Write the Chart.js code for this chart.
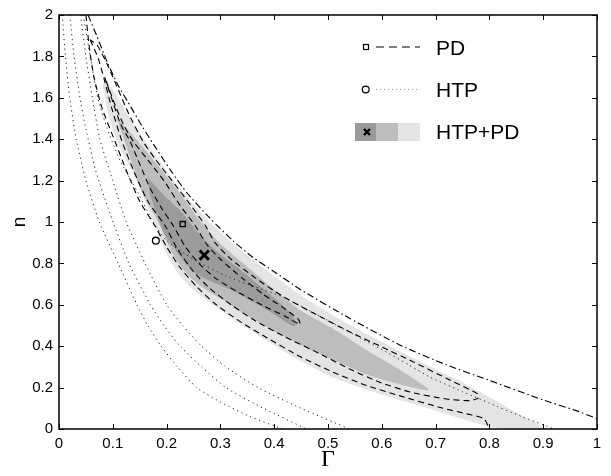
<!DOCTYPE html>
<html>
<head>
<meta charset="utf-8">
<script src="https://cdn.jsdelivr.net/npm/chart.js@4.4.1/dist/chart.umd.min.js"></script>
<style>
  html, body { margin: 0; padding: 0; background: #fff; }
  #wrap { width: 611px; height: 476px; }
</style>
</head>
<body>
<div id="wrap"><canvas id="chart" width="611" height="476"></canvas></div>
<script>
// axis ticks
const X_TICKS = [0, 0.1, 0.2, 0.3, 0.4, 0.5, 0.6, 0.7, 0.8, 0.9, 1];
const X_LABELS = ["0", "0.1", "0.2", "0.3", "0.4", "0.5", "0.6", "0.7", "0.8", "0.9", "1"];
const Y_TICKS = [0, 0.2, 0.4, 0.6, 0.8, 1, 1.2, 1.4, 1.6, 1.8, 2];
const Y_LABELS = ["0", "0.2", "0.4", "0.6", "0.8", "1", "1.2", "1.4", "1.6", "1.8", "2"];
const LEGEND_LABELS = ["PD", "HTP", "HTP+PD"];

// HTP+PD confidence regions [Gamma, n]
const REGION_3SIG = [
  [0.086, 1.69], [0.105, 1.62], [0.125, 1.53], [0.15, 1.43], [0.18, 1.32], [0.219, 1.18],
  [0.26, 1.055], [0.3, 0.95], [0.34, 0.86], [0.39, 0.76], [0.448, 0.65], [0.509, 0.55],
  [0.572, 0.46], [0.634, 0.375], [0.695, 0.295], [0.75, 0.225], [0.8, 0.155], [0.85, 0.08],
  [0.903, 0], [0.833, 0], [0.796, 0.013], [0.695, 0.093], [0.634, 0.14], [0.572, 0.19],
  [0.509, 0.25], [0.448, 0.33], [0.387, 0.425], [0.336, 0.51], [0.286, 0.6], [0.25, 0.67],
  [0.225, 0.74], [0.205, 0.82], [0.19, 0.9], [0.178, 0.98], [0.164, 1.078], [0.138, 1.235],
  [0.108, 1.39], [0.089, 1.55], [0.082, 1.66]
];
const REGION_2SIG = [
  [0.106, 1.51], [0.15, 1.38], [0.182, 1.28], [0.225, 1.14], [0.255, 1.03], [0.294, 0.91],
  [0.34, 0.805], [0.39, 0.695], [0.448, 0.575], [0.509, 0.485], [0.572, 0.38], [0.634, 0.285],
  [0.686, 0.196], [0.686, 0.186], [0.634, 0.215], [0.572, 0.263], [0.509, 0.335], [0.46, 0.39],
  [0.416, 0.45], [0.361, 0.531], [0.312, 0.61], [0.275, 0.67], [0.245, 0.73], [0.225, 0.79],
  [0.21, 0.85], [0.198, 0.92], [0.188, 0.98], [0.17, 1.07], [0.15, 1.17], [0.126, 1.36]
];
const REGION_1SIG = [
  [0.166, 1.21], [0.197, 1.125], [0.229, 1.045], [0.258, 0.95], [0.29, 0.865], [0.342, 0.76],
  [0.39, 0.655], [0.425, 0.575], [0.442, 0.51], [0.435, 0.497], [0.387, 0.575], [0.323, 0.668],
  [0.285, 0.71], [0.255, 0.75], [0.235, 0.8], [0.215, 0.87], [0.197, 0.936], [0.178, 1.063],
  [0.168, 1.15]
];

// PD contours (dashed)
const PD_OUTER_UPPER = [
  [0.054, 2], [0.07, 1.9], [0.09, 1.77], [0.11, 1.66], [0.128, 1.58], [0.155, 1.46], [0.182, 1.35],
  [0.21, 1.24], [0.238, 1.14], [0.28, 1.02], [0.323, 0.91], [0.36, 0.83], [0.4, 0.76], [0.448, 0.675],
  [0.54, 0.535], [0.634, 0.405], [0.72, 0.31], [0.8, 0.235], [0.9, 0.14], [0.96, 0.09], [1.0, 0.05]
];
const PD_OUTER_LOWER = [
  [0.05, 2], [0.056, 1.85], [0.065, 1.7], [0.08, 1.55], [0.104, 1.39], [0.125, 1.25], [0.15, 1.1],
  [0.178, 0.983], [0.2, 0.88], [0.225, 0.78], [0.255, 0.69], [0.29, 0.605], [0.336, 0.52], [0.387, 0.44],
  [0.448, 0.35], [0.509, 0.275], [0.572, 0.21], [0.634, 0.16], [0.714, 0.1], [0.76, 0.072],
  [0.79, 0.05], [0.8, 0]
];
const PD_MIDDLE = [
  [0.058, 1.88], [0.073, 1.79], [0.085, 1.68], [0.098, 1.55], [0.117, 1.39], [0.14, 1.24], [0.165, 1.1],
  [0.197, 0.983], [0.22, 0.87], [0.25, 0.76], [0.28, 0.68], [0.32, 0.6], [0.36, 0.53], [0.42, 0.445],
  [0.48, 0.37], [0.54, 0.29], [0.597, 0.225], [0.658, 0.175], [0.72, 0.145], [0.765, 0.137], [0.78, 0.15],
  [0.778, 0.17], [0.72, 0.245], [0.658, 0.325], [0.597, 0.4], [0.54, 0.47], [0.48, 0.55], [0.42, 0.635],
  [0.37, 0.72], [0.32, 0.82], [0.29, 0.9], [0.272, 0.983], [0.245, 1.08], [0.21, 1.2], [0.18, 1.3],
  [0.156, 1.39], [0.13, 1.52], [0.11, 1.64], [0.09, 1.76], [0.072, 1.85], [0.058, 1.88]
];
const PD_INNER = [
  [0.085, 1.7], [0.1, 1.58], [0.115, 1.47], [0.132, 1.39], [0.15, 1.28], [0.17, 1.16], [0.19, 1.07],
  [0.212, 0.983], [0.235, 0.88], [0.26, 0.8], [0.29, 0.73], [0.33, 0.665], [0.38, 0.595], [0.42, 0.545],
  [0.448, 0.505], [0.445, 0.53], [0.42, 0.58], [0.38, 0.65], [0.34, 0.73], [0.3, 0.82], [0.275, 0.89],
  [0.253, 0.983], [0.225, 1.08], [0.195, 1.2], [0.165, 1.3], [0.138, 1.39], [0.12, 1.47], [0.105, 1.56],
  [0.092, 1.65], [0.085, 1.7]
];

// HTP contours (dotted)
const HTP_1 = [
  [0.006, 2], [0.012, 1.8], [0.02, 1.6], [0.032, 1.4], [0.05, 1.2], [0.075, 1.0], [0.11, 0.8],
  [0.145, 0.6], [0.165, 0.5], [0.19, 0.4], [0.22, 0.3], [0.256, 0.2], [0.3, 0.13], [0.355, 0.06], [0.416, 0]
];
const HTP_2 = [
  [0.02, 2], [0.028, 1.8], [0.039, 1.6], [0.05, 1.45], [0.068, 1.25], [0.095, 1.04], [0.13, 0.8],
  [0.17, 0.6], [0.195, 0.5], [0.225, 0.4], [0.265, 0.3], [0.31, 0.2], [0.38, 0.1], [0.46, 0]
];
const HTP_3 = [
  [0.04, 2], [0.05, 1.8], [0.062, 1.6], [0.076, 1.4], [0.1, 1.2], [0.125, 1.0], [0.16, 0.8],
  [0.2, 0.6], [0.23, 0.5], [0.265, 0.4], [0.31, 0.3], [0.37, 0.2], [0.45, 0.1], [0.54, 0]
];
const HTP_4 = [
  [0.045, 2], [0.058, 1.8], [0.072, 1.6], [0.089, 1.456], [0.113, 1.3], [0.147, 1.14], [0.175, 1.0],
  [0.2, 0.91], [0.25, 0.82], [0.31, 0.74], [0.36, 0.69], [0.41, 0.645], [0.46, 0.58], [0.51, 0.51],
  [0.56, 0.44], [0.61, 0.37], [0.65, 0.31], [0.69, 0.25], [0.75, 0.18], [0.8, 0.125], [0.86, 0.06],
  [0.92, 0]
];

// best fits
const BEST_PD = [0.23, 0.99];
const BEST_HTP = [0.18, 0.91];
const BEST_BOTH = [0.27, 0.84];

const FONT = "'Liberation Sans', Arial, Helvetica, sans-serif";
const DARK = "#9b9b9b", MID = "#bdbdbd", LIGHT = "#e4e4e4";

const toPts = arr => arr.map(([x, y]) => ({ x, y }));
const closed = arr => arr.concat([arr[0]]);

const region = (pts, color, order) => ({
  data: toPts(closed(pts)), showLine: true, fill: "shape", tension: 0.2,
  backgroundColor: color, borderWidth: 0, pointRadius: 0, order
});
const contour = (pts, dash, width, color) => ({
  data: toPts(pts), showLine: true, fill: false, tension: 0.2,
  borderColor: color || "#000", borderWidth: width, borderDash: dash, pointRadius: 0, order: 1
});
const marker = (p, style, radius, width) => ({
  data: toPts([p]), showLine: false, pointStyle: style, pointRadius: radius,
  borderColor: "#000", borderWidth: width, backgroundColor: "rgba(0,0,0,0)", order: 0
});

const DASH = [6, 4];
const DOT = [1.2, 3.6];

// MATLAB style box, inward ticks, axis titles and legend
const frame = {
  id: "frame",
  afterDraw(chart) {
    const { ctx, chartArea: a, scales: { x, y } } = chart;
    ctx.save();
    ctx.strokeStyle = "#000";
    ctx.lineWidth = 1;
    X_TICKS.forEach(v => {
      const px = Math.round(x.getPixelForValue(v)) + 0.5;
      ctx.beginPath();
      ctx.moveTo(px, a.bottom); ctx.lineTo(px, a.bottom - 5);
      ctx.moveTo(px, a.top); ctx.lineTo(px, a.top + 5);
      ctx.stroke();
    });
    Y_TICKS.forEach(v => {
      const py = Math.round(y.getPixelForValue(v)) + 0.5;
      ctx.beginPath();
      ctx.moveTo(a.left, py); ctx.lineTo(a.left + 5, py);
      ctx.moveTo(a.right, py); ctx.lineTo(a.right - 5, py);
      ctx.stroke();
    });
    ctx.lineWidth = 1.5;
    ctx.strokeRect(a.left, a.top, a.width, a.height);

    // axis titles
    ctx.fillStyle = "#000";
    ctx.textAlign = "center";
    ctx.textBaseline = "alphabetic";
    ctx.font = "24px 'Liberation Serif', 'DejaVu Serif', serif";
    ctx.fillText("\u0393", (a.left + a.right) / 2, 466);
    ctx.save();
    ctx.translate(25, (a.top + a.bottom) / 2);
    ctx.rotate(-Math.PI / 2);
    ctx.font = "19px " + FONT;
    ctx.fillText("n", 0, 0);
    ctx.restore();

    // legend
    const lx = 355, tx = 436;
    ctx.font = "21px " + FONT;
    ctx.textAlign = "left";
    ctx.fillText(LEGEND_LABELS[0], tx, 55);
    ctx.fillText(LEGEND_LABELS[1], tx, 97);
    ctx.fillText(LEGEND_LABELS[2], tx, 139);

    ctx.lineWidth = 1.2;
    ctx.strokeRect(363.5, 44.5, 5, 5);
    ctx.setLineDash([8, 5]);
    ctx.beginPath(); ctx.moveTo(376, 47); ctx.lineTo(420, 47); ctx.stroke();

    ctx.setLineDash([]);
    ctx.beginPath(); ctx.arc(365.7, 89.5, 3.4, 0, Math.PI * 2); ctx.stroke();
    ctx.strokeStyle = "#999";
    ctx.lineWidth = 1;
    ctx.setLineDash([1, 3]);
    ctx.beginPath(); ctx.moveTo(376, 89.5); ctx.lineTo(420, 89.5); ctx.stroke();
    ctx.setLineDash([]);

    ctx.fillStyle = DARK; ctx.fillRect(lx, 123, 21, 18);
    ctx.fillStyle = MID; ctx.fillRect(lx + 21, 123, 22, 18);
    ctx.fillStyle = LIGHT; ctx.fillRect(lx + 43, 123, 22, 18);
    ctx.strokeStyle = "#000";
    ctx.lineWidth = 2.4;
    ctx.beginPath();
    ctx.moveTo(364, 129); ctx.lineTo(370, 135);
    ctx.moveTo(370, 129); ctx.lineTo(364, 135);
    ctx.stroke();
    ctx.restore();
  }
};

new Chart(document.getElementById("chart"), {
  type: "scatter",
  data: {
    datasets: [
      marker(BEST_BOTH, "crossRot", 6.5, 3),
      marker(BEST_PD, "rect", 3.6, 1.3),
      marker(BEST_HTP, "circle", 3.4, 1.3),
      contour(PD_OUTER_UPPER, [7, 3, 1.5, 3], 1.1),
      contour(PD_OUTER_LOWER, DASH, 1.1),
      contour(PD_MIDDLE, DASH, 1.1),
      contour(PD_INNER, DASH, 1.1),
      contour(HTP_1, DOT, 1, "#222"),
      contour(HTP_2, DOT, 1, "#222"),
      contour(HTP_3, DOT, 1, "#222"),
      contour(HTP_4, DOT, 1, "#222"),
      region(REGION_1SIG, DARK, 2),
      region(REGION_2SIG, MID, 3),
      region(REGION_3SIG, LIGHT, 4)
    ]
  },
  options: {
    responsive: false,
    animation: false,
    events: [],
    layout: { padding: { top: 4, right: 14, left: 0, bottom: 0 } },
    plugins: { legend: { display: false }, tooltip: { enabled: false } },
    scales: {
      x: {
        type: "linear", min: 0, max: 1,
        afterBuildTicks: s => { s.ticks = X_TICKS.map(v => ({ value: v })); },
        afterFit: s => { s.height = 47; },
        grid: { display: false, drawTicks: false },
        border: { display: false },
        ticks: {
          callback: (v, i) => X_LABELS[i],
          font: { family: FONT, size: 15 }, color: "#000",
          padding: 6, maxRotation: 0, autoSkip: false
        }
      },
      y: {
        type: "linear", min: 0, max: 2,
        afterBuildTicks: s => { s.ticks = Y_TICKS.map(v => ({ value: v })); },
        afterFit: s => { s.width = 59; },
        grid: { display: false, drawTicks: false },
        border: { display: false },
        ticks: {
          callback: (v, i) => Y_LABELS[i],
          font: { family: FONT, size: 15 }, color: "#000",
          padding: 6, autoSkip: false
        }
      }
    }
  },
  plugins: [frame]
});
</script>
</body>
</html>
